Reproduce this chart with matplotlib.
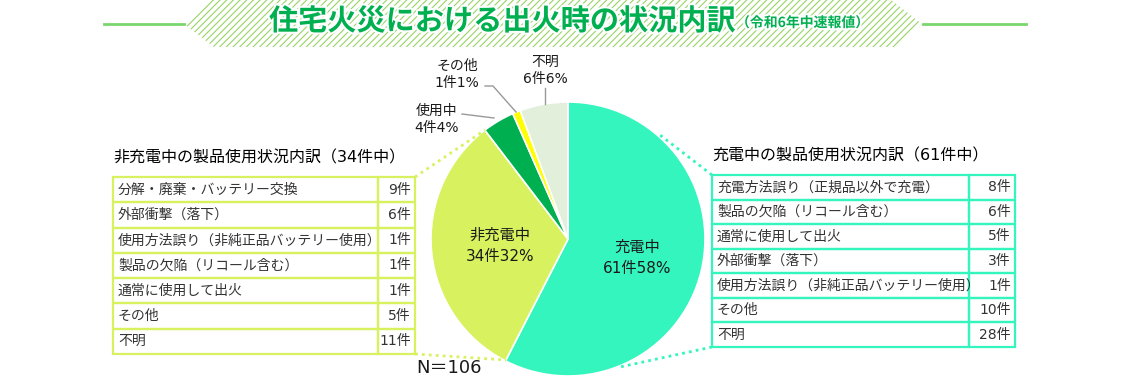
import matplotlib
matplotlib.use("Agg")
import matplotlib.pyplot as plt
from matplotlib.patches import Polygon, Rectangle
import matplotlib.patheffects as pe
import numpy as np

plt.rcParams['font.family'] = ['Noto Sans CJK JP', 'DejaVu Sans']
plt.rcParams['hatch.linewidth'] = 0.8
NUMF = ['DejaVu Sans', 'Noto Sans CJK JP']

# ---- data ----
pie_labels = ["充電中", "非充電中", "使用中", "その他", "不明"]
pie_counts = [61, 34, 4, 1, 6]
pie_pcts = [58, 32, 4, 1, 6]
pie_colors = ["#35F5BF", "#D8F25F", "#00B050", "#FFFF00", "#E2EFDA"]

left_title = "非充電中の製品使用状況内訳（34件中）"
left_items = ["分解・廃棄・バッテリー交換", "外部衝撃（落下）", "使用方法誤り（非純正品バッテリー使用）",
              "製品の欠陥（リコール含む）", "通常に使用して出火", "その他", "不明"]
left_counts = [9, 6, 1, 1, 1, 5, 11]

right_title = "充電中の製品使用状況内訳（61件中）"
right_items = ["充電方法誤り（正規品以外で充電）", "製品の欠陥（リコール含む）", "通常に使用して出火",
               "外部衝撃（落下）", "使用方法誤り（非純正品バッテリー使用）", "その他", "不明"]
right_counts = [8, 6, 5, 3, 1, 10, 28]

title_main = "住宅火災における出火時の状況内訳"
title_sub = "（令和6年中速報値）"
n_total = "N＝106"

W, H = 1134, 378
fig = plt.figure(figsize=(W / 100, H / 100), dpi=100)
ax = fig.add_axes([0, 0, 1, 1])

def Y(y):
    return H - y

# ---- pie ----
cx, cy, r = 568, 239, 137
wedges, _ = ax.pie(pie_counts, colors=pie_colors, startangle=90, counterclock=False,
                   center=(cx, Y(cy)), radius=r,
                   wedgeprops=dict(edgecolor="white", linewidth=1.2))
ax.set_xlim(0, W)
ax.set_ylim(0, H)
ax.set_aspect("auto")
ax.axis("off")

txtc = "#1a1a1a"
ax.text(637, Y(247), pie_labels[0], ha="center", va="center", fontsize=11, color=txtc)
ax.text(637, Y(268), f"{pie_counts[0]}件{pie_pcts[0]}%", ha="center", va="center", fontsize=11,
        color=txtc, family=NUMF)
ax.text(500, Y(235), pie_labels[1], ha="center", va="center", fontsize=11, color=txtc)
ax.text(500, Y(256), f"{pie_counts[1]}件{pie_pcts[1]}%", ha="center", va="center", fontsize=11,
        color=txtc, family=NUMF)

# outside labels
lc = "#999999"
def outside(label, cnt, pct, tx, ty):
    ax.text(tx, Y(ty), label, ha="center", va="center", fontsize=10, color=txtc)
    ax.text(tx, Y(ty + 17), f"{cnt}件{pct}%", ha="center", va="center", fontsize=10, color=txtc,
            family=NUMF)

outside(pie_labels[2], pie_counts[2], pie_pcts[2], 437, 111)
ax.plot([462, 494], [Y(114), Y(118)], color=lc, lw=1)
outside(pie_labels[3], pie_counts[3], pie_pcts[3], 457, 66)
ax.plot([485, 493, 516], [Y(86), Y(86), Y(112)], color=lc, lw=1)
outside(pie_labels[4], pie_counts[4], pie_pcts[4], 545, 62)
ax.plot([545, 545], [Y(88), Y(104)], color=lc, lw=1)

ax.text(449, Y(368), n_total, ha="center", va="center", fontsize=13, color=txtc, family=NUMF)

# ---- tables ----
def table(x0, x1, x2, top, bottom, items, counts, color, title, lw):
    n = len(items)
    rh = (bottom - top) / n
    for i, (it, c) in enumerate(zip(items, counts)):
        yt = top + i * rh
        ax.add_patch(Rectangle((x0, Y(yt + rh)), x1 - x0, rh, fill=False, edgecolor=color, lw=lw))
        ax.add_patch(Rectangle((x1, Y(yt + rh)), x2 - x1, rh, fill=False, edgecolor=color, lw=lw))
        ax.text(x0 + 5, Y(yt + rh / 2), it, ha="left", va="center", fontsize=10, color="#333333")
        ax.text(x2 - 4, Y(yt + rh / 2), f"{c}件", ha="right", va="center", fontsize=10,
                color="#333333", family=NUMF)
    ax.text(x0, Y(top - 19), title, ha="left", va="center", fontsize=11.5, color="#000000",
            family=NUMF)

ltc = "#D8F25F"
rtc = "#35F5BF"
table(113, 378, 415, 177, 354, left_items, left_counts, ltc, left_title, 1.6)
table(712, 969, 1015, 175, 347, right_items, right_counts, rtc, right_title, 1.6)

# dotted connectors
ax.plot([415, 485], [Y(177), Y(130)], color=ltc, lw=2, ls=(0, (1, 1.5)))
ax.plot([415, 506], [Y(354), Y(360)], color=ltc, lw=2, ls=(0, (1, 1.5)))
ax.plot([712, 660], [Y(175), Y(135)], color=rtc, lw=2, ls=(0, (1, 1.5)))
ax.plot([712, 620], [Y(347), Y(367)], color=rtc, lw=2, ls=(0, (1, 1.5)))

# ---- title banner ----
gl = "#7AD66E"
ax.plot([104, 184], [Y(24), Y(24)], color=gl, lw=2)
ax.plot([923, 1026], [Y(24), Y(24)], color=gl, lw=2)
banner = Polygon([(184, Y(24)), (213, Y(-1)), (890, Y(-1)), (922, Y(24)), (896, Y(47)), (214, Y(47))],
                 closed=True, facecolor="none", edgecolor="#98D464", lw=0, hatch="/////")
ax.add_patch(banner)
stroke = [pe.withStroke(linewidth=3, foreground="white")]
t1 = ax.text(269, Y(21), title_main, ha="left", va="center", fontsize=21, color="#00B050",
             fontweight="bold", path_effects=stroke)
fig.canvas.draw()
bb = t1.get_window_extent()
ax.text(bb.x1 + 1, Y(23), title_sub, ha="left", va="center", fontsize=10, color="#00B050",
        fontweight="bold", path_effects=stroke)

fig.savefig("out.png", dpi=100)
